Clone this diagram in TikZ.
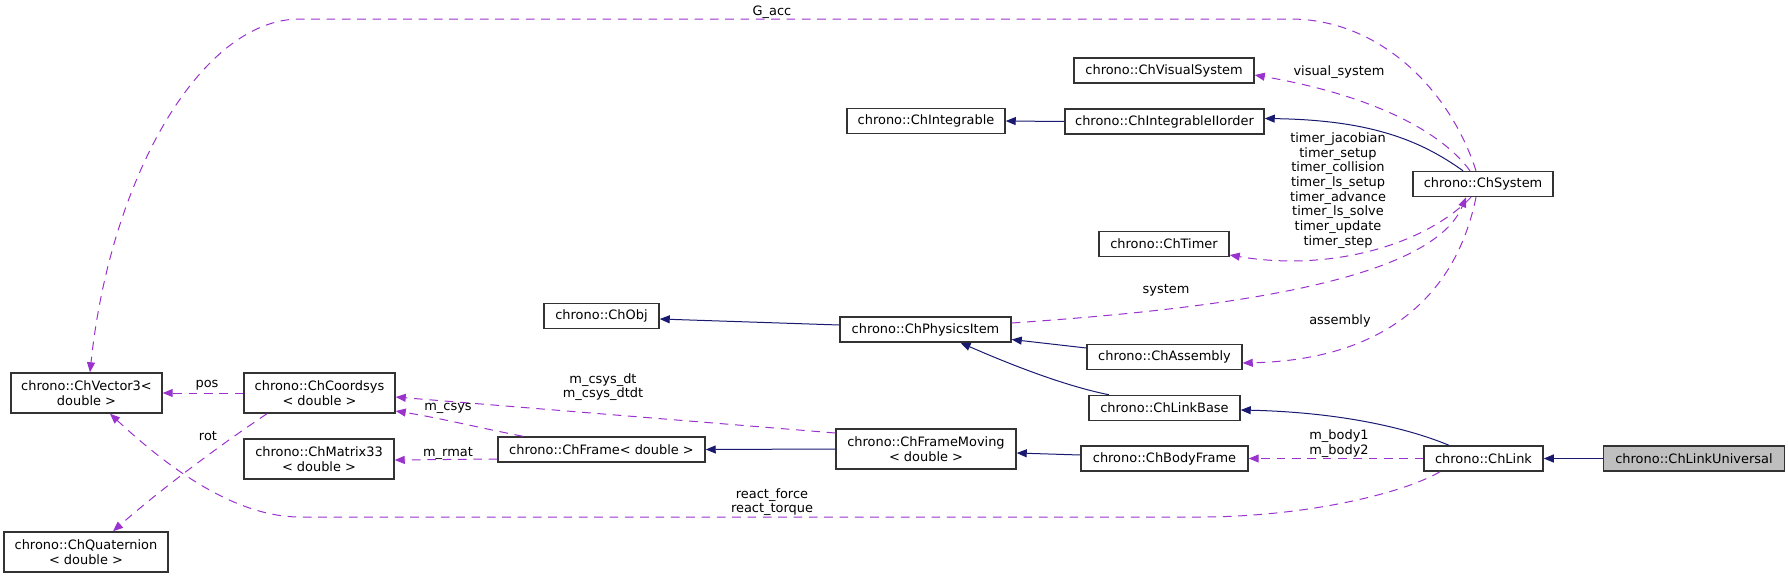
\documentclass[tikz,border=0pt]{standalone}
\usepackage{fontspec}
\setmainfont{DejaVu Sans}
\usepackage{tikz}
\usetikzlibrary{arrows.meta,calc,positioning}
\definecolor{inhblue}{HTML}{191970}
\definecolor{memberpurple}{HTML}{9A32CD}
\definecolor{boxgray}{HTML}{333333}
\definecolor{selfgray}{HTML}{BFBFBF}

\begin{document}
\begin{tikzpicture}[x=0.75pt, y=-0.75pt, >={Triangle[length=7.5pt,width=6pt]}, line width=0.75pt]
		\tikzstyle{every node}=[font=\fontsize{9.7}{11}\selectfont, text=black]
		\tikzstyle{classbox}=[draw=boxgray, line width=1.1pt, fill=white, inner sep=1pt, minimum height=18.75pt, align=center]
		\tikzstyle{classbox2}=[classbox, minimum height=30pt]
		\tikzstyle{inherit}=[->, draw=inhblue]
		\tikzstyle{member}=[->, draw=memberpurple, dash pattern=on 6.5pt off 5pt]
		\useasboundingbox (0,0) rectangle (1788,578);

		% classes
		\node[classbox2, minimum width=113.25pt] (vec) at (86.5,393) {chrono::ChVector3<\\double >};
		\node[classbox2, minimum width=113.25pt] (coord) at (319.5,393) {chrono::ChCoordsys\\< double >};
		\node[classbox2, minimum width=123pt] (quat) at (86,552) {chrono::ChQuaternion\\< double >};
		\node[classbox2, minimum width=112.5pt] (mat) at (319,459) {chrono::ChMatrix33\\< double >};
		\node[classbox, minimum width=155.25pt] (frame) at (601.5,449.5) {chrono::ChFrame< double >};
		\node[classbox2, minimum width=135pt] (fmov) at (926,449) {chrono::ChFrameMoving\\< double >};
		\node[classbox, minimum width=86.25pt] (obj) at (601.5,316) {chrono::ChObj};
		\node[classbox, minimum width=128.25pt] (pitem) at (925.5,329.5) {chrono::ChPhysicsItem};
		\node[classbox, minimum width=118.5pt] (integ) at (926,121) {chrono::ChIntegrable};
		\node[classbox, minimum width=149.25pt] (integ2) at (1164.5,121.5) {chrono::ChIntegrableIIorder};
		\node[classbox, minimum width=135pt] (vis) at (1164,70.5) {chrono::ChVisualSystem};
		\node[classbox, minimum width=97.5pt] (timer) at (1164,244) {chrono::ChTimer};
		\node[classbox, minimum width=105pt] (sys) at (1483,184) {chrono::ChSystem};
		\node[classbox, minimum width=116.25pt] (asm) at (1164.5,357) {chrono::ChAssembly};
		\node[classbox, minimum width=113.25pt] (lbase) at (1164.5,408) {chrono::ChLinkBase};
		\node[classbox, minimum width=125.25pt] (bframe) at (1164.5,458.5) {chrono::ChBodyFrame};
		\node[classbox, minimum width=89.25pt] (link) at (1483.5,458.5) {chrono::ChLink};
		\node[classbox, minimum width=135.75pt, fill=selfgray, right=44.25pt of link] (luni) {chrono::ChLinkUniversal};

		% inheritance
		\draw[inherit] (integ2.west) -- (integ.east);
		\draw[inherit] ($(sys.north)+(-20,0)$) .. controls (1420,140) and (1370,120) .. ($(integ2.east)+(0,-3)$);
		\draw[inherit] ($(pitem.west)+(0,-4.5)$) -- ($(obj.east)+(0,3)$);
		\draw[inherit] ($(asm.west)+(0,-9)$) -- ($(pitem.east)+(0,10)$);
		\draw[inherit] ($(lbase.north)+(-55.5,0)$) .. controls (1060,385) and (1000,360) .. ($(pitem.south)+(35,0)$);
		\draw[inherit] (fmov.west) -- (frame.east);
		\draw[inherit] ($(bframe.west)+(0,-3.5)$) -- ($(fmov.east)+(0,4)$);
		\draw[inherit] ($(link.north)+(-34.5,0)$) .. controls (1400,425) and (1330,412) .. ($(lbase.east)+(0,2)$);
		\draw[inherit] (luni.west) -- (link.east);

		% members
		\draw[member] ($(sys.north)+(-7,0)$) .. controls (1450,90) and (1380,19) .. (1290,19) -- (300,19)
			.. controls (200,19) and (110,180) .. ($(vec.north)+(3.5,0)$);
		\draw[member] ($(sys.north)+(-13,0)$) .. controls (1440,130) and (1370,95) .. ($(vis.east)+(0,4.5)$);
		\draw[member] ($(sys.south)+(-12,0)$) .. controls (1425,245) and (1330,272) .. ($(timer.east)+(0,11)$);
		\draw[member] ($(pitem.east)+(0,-6.5)$) .. controls (1200,310) and (1430,285) .. ($(sys.south)+(-17,0)$);
		\draw[member] ($(sys.south)+(-7,0)$) .. controls (1455,300) and (1380,360) .. ($(asm.east)+(0,6)$);
		\draw[member] (coord.west) -- (vec.east);
		\draw[member] ($(coord.south)+(-52.5,0)$) .. controls (220,445) and (160,490) .. ($(quat.north)+(27,0)$);
		\draw[member] ($(frame.north)+(-78.5,0)$) .. controls (480,428) and (440,418) .. ($(coord.east)+(0,18)$);
		\draw[member] ($(fmov.west)+(0,-16)$) -- ($(coord.east)+(0,4)$);
		\draw[member] ($(frame.west)+(0,9.5)$) -- ($(mat.east)+(0,1)$);
		\draw[member] (link.west) -- (bframe.east);
		\draw[member] ($(link.south)+(-43.5,0)$) .. controls (1400,495) and (1300,517) .. (1200,517) -- (300,517)
			.. controls (230,517) and (160,460) .. ($(vec.south)+(23.5,0)$);

		% labels
		\node (lgacc) at (772,12) {G\_acc};
		\node (lvis) at (1339,72) {visual\_system};
		\node[align=center] (ltimer) at (1338,190.5) {timer\_jacobian\\timer\_setup\\timer\_collision\\timer\_ls\_setup\\timer\_advance\\timer\_ls\_solve\\timer\_update\\timer\_step};
		\node (lsys) at (1166,290) {system};
		\node (lasm) at (1340,321) {assembly};
		\node (lpos) at (207,385) {pos};
		\node (lrot) at (208,436) {rot};
		\node (lcsys) at (448,408) {m\_csys};
		\node (lrmat) at (448,453) {m\_rmat};
		\node[align=center] (lcsysdt) at (603,387) {m\_csys\_dt\\m\_csys\_dtdt};
		\node[align=center] (lbody) at (1339,443.5) {m\_body1\\m\_body2};
		\node[align=center] (lreact) at (772,502) {react\_force\\react\_torque};
	\end{tikzpicture}
\end{document}
